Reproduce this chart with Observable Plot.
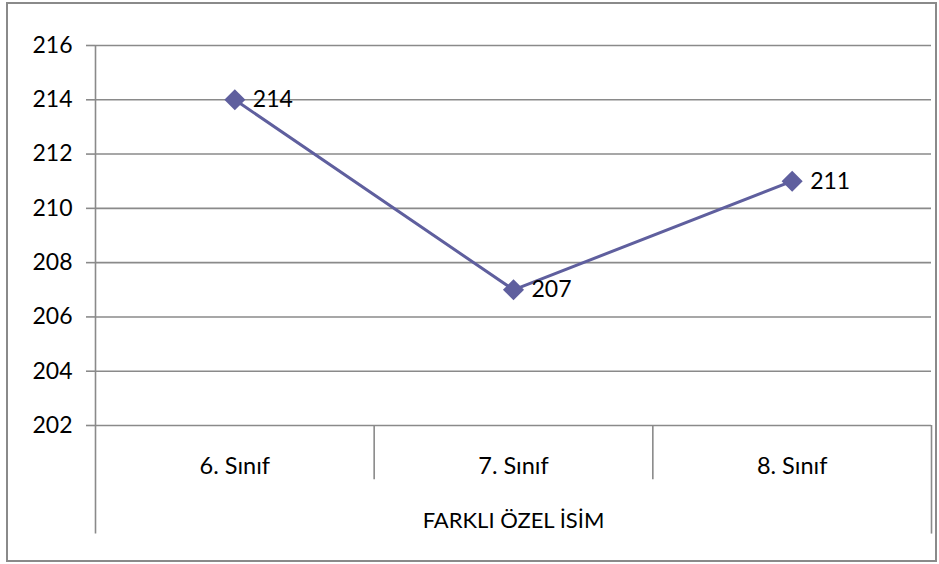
<!DOCTYPE html>
<html>
<head>
<meta charset="utf-8">
<script src="https://cdn.jsdelivr.net/npm/d3@7"></script>
<script src="https://cdn.jsdelivr.net/npm/@observablehq/plot@0.6"></script>
<style>
  html, body { margin: 0; padding: 0; background: #fff; }
  #wrap { position: relative; width: 939px; height: 564px; }
  #border { position: absolute; left: 6px; top: 2px; width: 931px; height: 560px; border: 2px solid #8a8a8a; box-sizing: border-box; pointer-events: none; }
</style>
</head>
<body>
<div id="wrap"><div id="border"></div></div>
<script>
const categories = ["6. Sınıf", "7. Sınıf", "8. Sınıf"];
const values = [214, 207, 211];
const yTicks = [202, 204, 206, 208, 210, 212, 214, 216];
const groupLabel = "FARKLI ÖZEL İSİM";

const data = categories.map((c, i) => ({cat: c, idx: i + 0.5, value: values[i]}));
const separators = d3.range(1, categories.length);
const color = "#5f5f9e";
const gridColor = "#8a8a8a";
const font = "Lato, 'Open Sans', sans-serif";

const chart = Plot.plot({
  width: 939,
  height: 564,
  marginLeft: 95,
  marginRight: 8,
  marginTop: 45,
  marginBottom: 139,
  style: {fontFamily: font, background: "transparent", overflow: "visible"},
  x: {domain: [0, categories.length], axis: null},
  y: {domain: [202, 216], axis: null},
  marks: [
    Plot.ruleY(yTicks, {stroke: gridColor, strokeWidth: 1.6}),
    Plot.axisY({ticks: yTicks, tickSize: 9, tickPadding: 14, fontSize: 23, stroke: gridColor, strokeWidth: 1.6, strokeOpacity: 1, fill: "#000", label: null}),
    Plot.ruleX([0], {y1: 216, y2: 198, stroke: gridColor, strokeWidth: 1.6}),
    Plot.ruleX([categories.length], {y1: 202, y2: 198, stroke: gridColor, strokeWidth: 1.6}),
    Plot.ruleX(separators, {y1: 202, y2: 200, stroke: gridColor, strokeWidth: 1.6}),
    Plot.text(data, {x: "idx", y: () => 200.5, text: "cat", fontSize: 23.5, fill: "#000"}),
    Plot.text([groupLabel], {x: () => categories.length / 2, y: () => 198.5, text: d => d, fontSize: 22, fill: "#000"}),
    Plot.line(data, {x: "idx", y: "value", stroke: color, strokeWidth: 3}),
    Plot.dot(data, {x: "idx", y: "value", symbol: "diamond2", r: 9.5, fill: color, stroke: "none"}),
    Plot.text(data, {x: "idx", y: "value", text: d => String(d.value), textAnchor: "start", dx: 18, fontSize: 23, fill: "#000"})
  ]
});
document.getElementById("wrap").prepend(chart);
chart.style.position = "absolute";
chart.style.left = "0";
chart.style.top = "0";
</script>
</body>
</html>
